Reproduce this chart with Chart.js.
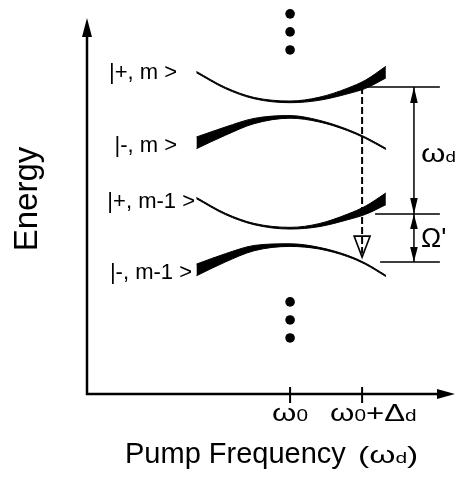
<!DOCTYPE html>
<html>
<head>
<meta charset="utf-8">
<script src="https://cdn.jsdelivr.net/npm/chart.js@4.4.1/dist/chart.umd.min.js"></script>
<style>
  html, body { margin: 0; padding: 0; background: #fff; }
  #chart { display: block; }
</style>
</head>
<body>
<canvas id="chart" width="460" height="478"></canvas>
<script>
// pump detuning samples (units of Δd, ω0 = 0)
const detuning = [-1.3, -0.9, -0.5, 0, 0.4, 0.8, 1.05, 1.33]

// dressed state energies (arb. units)
const plusM = [8.56, 8.14, 7.87, 7.77, 7.85, 8.06, 8.24, 8.56]
const minusM = [6.68, 6.99, 7.26, 7.37, 7.26, 7.02, 6.81, 6.52]
const plusM1 = [5.21, 4.79, 4.52, 4.41, 4.49, 4.71, 4.89, 5.19]
const minusM1 = [3.30, 3.62, 3.88, 3.96, 3.88, 3.67, 3.46, 3.14]

// population of each level, shown as line thickness (energy units)
const plusWeight = [0.035, 0.035, 0.035, 0.045, 0.08, 0.15, 0.22, 0.31]
const minusWeight = [0.31, 0.22, 0.14, 0.07, 0.045, 0.035, 0.035, 0.035]

const levelLabels = ['|+, m >', '|-, m >', '|+, m-1 >', '|-, m-1 >']

// "..." above and below the ladder, at ω0
const ellipsisY = [10.11, 9.63, 9.15, 2.45, 1.97, 1.49]

// x axis ticks ("_" = small subscript letter)
const tickValues = [0, 1]
const tickLabels = ['ω_0', 'ω_0+Δ_d']

// transition at ω0+Δd and the marked level positions
const transitionX = 1
const levelTop = 8.165
const levelMid = 4.787
const levelLow = 3.51
const transitionTip = 3.64

const axisTop = 10
const font = '"Liberation Sans", Arial, Helvetica, sans-serif'

const curves = [
  [plusM, plusWeight],
  [minusM, minusWeight],
  [plusM1, plusWeight],
  [minusM1, minusWeight]
]

const datasets = []
curves.forEach(([energy, weight]) => {
  const upper = detuning.map((d, i) => ({ x: d, y: energy[i] + weight[i] / 2 }))
  const lower = detuning.map((d, i) => ({ x: d, y: energy[i] - weight[i] / 2 }))
  const base = {
    showLine: true,
    pointRadius: 0,
    borderColor: '#000',
    backgroundColor: '#000',
    borderWidth: 1,
    cubicInterpolationMode: 'monotone'
  }
  datasets.push({ ...base, data: upper, fill: '+1' })
  datasets.push({ ...base, data: lower, fill: false })
})

datasets.push({
  data: [{ x: transitionX, y: levelTop }, { x: transitionX, y: transitionTip + 0.1 }],
  showLine: true,
  pointRadius: 0,
  borderColor: '#000',
  borderWidth: 2,
  borderDash: [7, 3],
  fill: false
})

datasets.push({
  data: ellipsisY.map(v => ({ x: 0, y: v })),
  showLine: false,
  pointRadius: 4.8,
  pointBackgroundColor: '#000',
  pointBorderWidth: 0,
  clip: false
})

// text with small "_x" letters, optionally stretched sideways
function drawRich (ctx, str, x, y, size, subSize, align, sx = 1) {
  const runs = []
  for (let i = 0; i < str.length; i++) {
    if (str[i] === '_') {
      runs.push([str[i + 1], subSize])
      i++
    } else {
      runs.push([str[i], size])
    }
  }
  let total = 0
  runs.forEach(r => {
    ctx.font = r[1] + 'px ' + font
    r.push(ctx.measureText(r[0]).width)
    total += r[2]
  })
  const start = align === 'center' ? x - total * sx / 2 : x
  ctx.save()
  ctx.translate(start, y)
  ctx.scale(sx, 1)
  ctx.textAlign = 'left'
  ctx.textBaseline = 'alphabetic'
  let cx = 0
  runs.forEach(r => {
    ctx.font = r[1] + 'px ' + font
    ctx.fillText(r[0], cx, 0)
    cx += r[2]
  })
  ctx.restore()
  return total * sx
}

function arrowHead (ctx, tx, ty, dx, dy, len, half) {
  ctx.beginPath()
  ctx.moveTo(tx, ty)
  ctx.lineTo(tx - dx * len - dy * half, ty - dy * len + dx * half)
  ctx.lineTo(tx - dx * len + dy * half, ty - dy * len - dx * half)
  ctx.closePath()
  ctx.fill()
}

const diagram = {
  id: 'diagram',
  afterDraw (chart) {
    const { ctx, chartArea: a, scales: { x, y } } = chart
    ctx.save()
    ctx.strokeStyle = '#000'
    ctx.fillStyle = '#000'

    // axes with arrows
    const x0 = a.left
    const y0 = a.bottom
    const yTop = y.getPixelForValue(axisTop)
    ctx.lineWidth = 2.5
    ctx.beginPath()
    ctx.moveTo(x0, yTop + 12)
    ctx.lineTo(x0, y0)
    ctx.lineTo(a.right - 12, y0)
    ctx.stroke()
    arrowHead(ctx, x0, yTop, 0, -1, 19, 5)
    arrowHead(ctx, a.right, y0, 1, 0, 18, 5)

    // ticks and tick labels
    ctx.lineWidth = 2
    tickValues.forEach((v, i) => {
      const tx = x.getPixelForValue(v)
      ctx.beginPath()
      ctx.moveTo(tx, y0 - 7)
      ctx.lineTo(tx, y0 + 9)
      ctx.stroke()
      if (i === 0) drawRich(ctx, tickLabels[i], tx, y0 + 27, 24, 16, 'center', 1.3)
      else drawRich(ctx, tickLabels[i], tx - 32, y0 + 27, 24, 16, 'left', 1.3)
    })

    // axis titles
    ctx.font = '29px ' + font
    ctx.textAlign = 'left'
    ctx.textBaseline = 'alphabetic'
    ctx.fillText('Pump Frequency', 125, 463)
    drawRich(ctx, '(ω_d)', 358, 463, 24, 15, 'left', 1.4)

    ctx.save()
    ctx.translate(37, 199)
    ctx.rotate(-Math.PI / 2)
    ctx.font = '33px ' + font
    ctx.textAlign = 'center'
    ctx.fillText('Energy', 0, 0)
    ctx.restore()

    // level labels
    const labelPos = [[177, 73], [177, 146], [195, 202], [192, 273]]
    ctx.font = '22px ' + font
    ctx.textAlign = 'right'
    ctx.textBaseline = 'middle'
    levelLabels.forEach((t, i) => ctx.fillText(t, labelPos[i][0], labelPos[i][1]))

    // level spacing marks
    const dimX = x.getPixelForValue(1.72)
    const right = x.getPixelForValue(2.08)
    const yT = y.getPixelForValue(levelTop)
    const yM = y.getPixelForValue(levelMid)
    const yL = y.getPixelForValue(levelLow)
    ctx.lineWidth = 1.5
    ctx.beginPath()
    ctx.moveTo(x.getPixelForValue(1.07), yT)
    ctx.lineTo(right, yT)
    ctx.moveTo(x.getPixelForValue(1.18), yM)
    ctx.lineTo(right, yM)
    ctx.moveTo(x.getPixelForValue(1.25), yL)
    ctx.lineTo(right, yL)
    ctx.moveTo(dimX, yT)
    ctx.lineTo(dimX, yL)
    ctx.stroke()
    arrowHead(ctx, dimX, yT, 0, -1, 16, 3.8)
    arrowHead(ctx, dimX, yM, 0, 1, 16, 3.8)
    arrowHead(ctx, dimX, yM, 0, -1, 15, 3.8)
    arrowHead(ctx, dimX, yL, 0, 1, 15, 3.8)
    drawRich(ctx, 'ω_d', 421, 162, 25, 15, 'left', 1.25)
    ctx.font = '27px ' + font
    ctx.textAlign = 'left'
    ctx.textBaseline = 'alphabetic'
    ctx.fillText("Ω'", 421, 247)

    // hollow arrow head of the transition
    const tx = x.getPixelForValue(transitionX)
    const tip = y.getPixelForValue(transitionTip)
    ctx.lineWidth = 1.6
    ctx.beginPath()
    ctx.moveTo(tx, tip)
    ctx.lineTo(tx - 8, tip - 21)
    ctx.lineTo(tx + 8, tip - 21)
    ctx.closePath()
    ctx.stroke()

    ctx.restore()
  }
}

// eslint-disable-next-line no-new
new Chart(document.getElementById('chart'), {
  type: 'scatter',
  data: { datasets },
  options: {
    responsive: false,
    animation: false,
    devicePixelRatio: 1,
    layout: { padding: { left: 87, right: 5, top: 5, bottom: 84 } },
    plugins: {
      legend: { display: false },
      tooltip: { enabled: false }
    },
    scales: {
      x: { type: 'linear', min: -2.82, max: 2.29, display: false },
      y: { type: 'linear', min: 0, max: 10.346, display: false }
    }
  },
  plugins: [diagram]
})
</script>
</body>
</html>
